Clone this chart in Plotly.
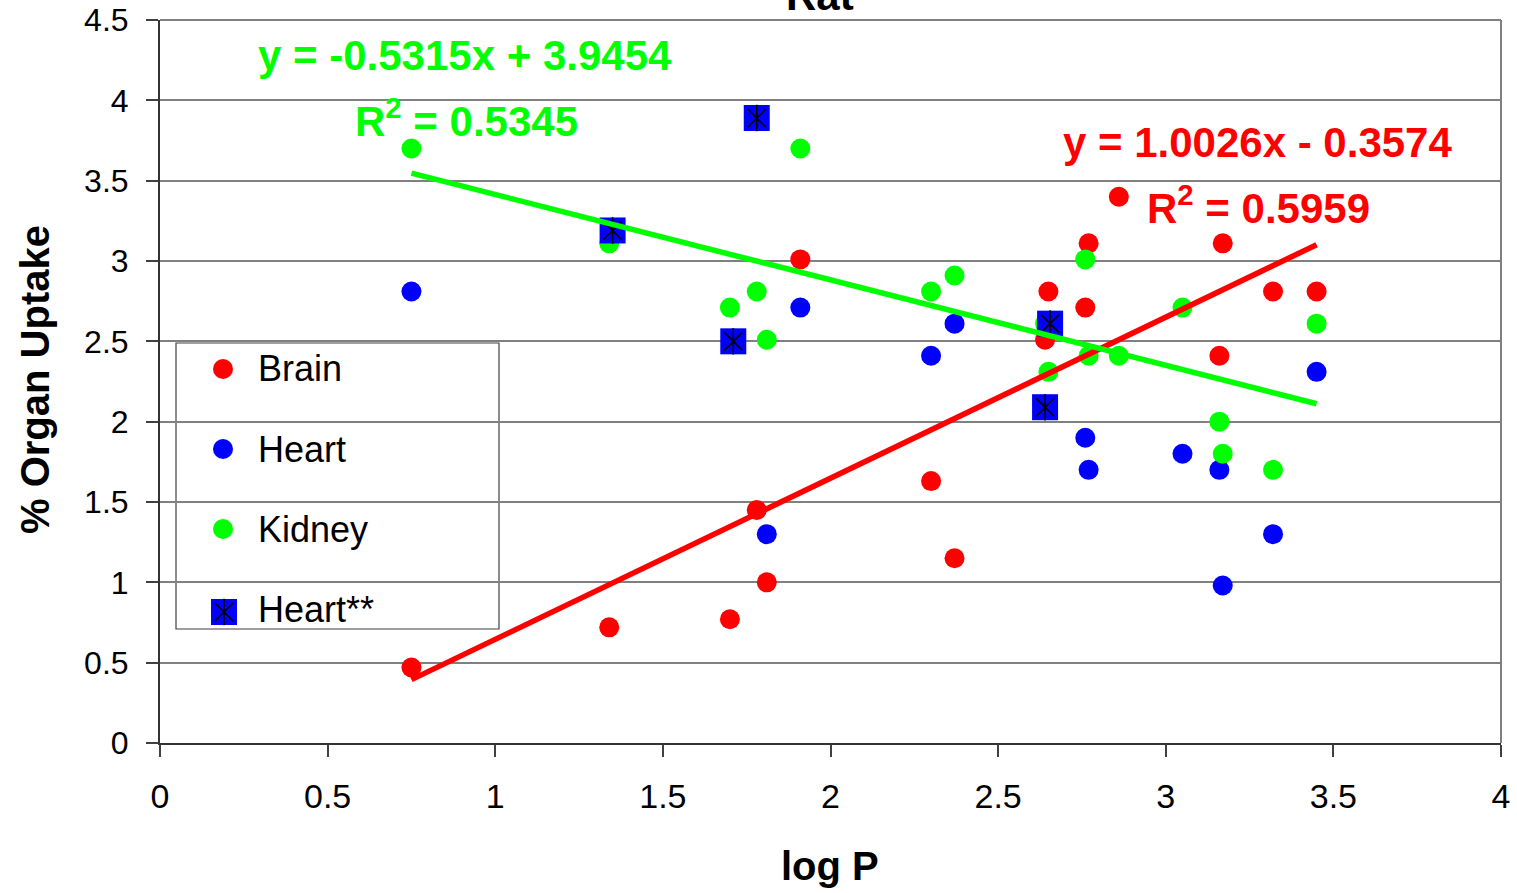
import plotly.graph_objects as go

# ---------------- data ----------------
brain_x = [0.75, 1.34, 1.70, 1.78, 1.81, 1.91, 2.30, 2.37, 2.64, 2.65, 2.76, 2.77, 2.86, 3.16, 3.17, 3.32, 3.45]
brain_y = [0.47, 0.72, 0.77, 1.45, 1.00, 3.01, 1.63, 1.15, 2.51, 2.81, 2.71, 3.11, 3.40, 2.41, 3.11, 2.81, 2.81]

heart_x = [0.75, 1.81, 1.91, 2.30, 2.37, 2.76, 2.77, 3.05, 3.16, 3.17, 3.32, 3.45]
heart_y = [2.81, 1.30, 2.71, 2.41, 2.61, 1.90, 1.70, 1.80, 1.70, 0.98, 1.30, 2.31]

kidney_x = [0.75, 1.34, 1.70, 1.78, 1.81, 1.91, 2.30, 2.37, 2.64, 2.65, 2.76, 2.77, 2.86, 3.05, 3.16, 3.17, 3.32, 3.45]
kidney_y = [3.70, 3.11, 2.71, 2.81, 2.51, 3.70, 2.81, 2.91, 2.61, 2.31, 3.01, 2.41, 2.41, 2.71, 2.00, 1.80, 1.70, 2.61]

heart2_x = [1.35, 1.71, 1.78, 2.655, 2.64]
heart2_y = [3.19, 2.50, 3.89, 2.61, 2.09]

legend_labels = ["Brain", "Heart", "Kidney", "Heart**"]

brain_fit = (1.0026, -0.3574, 0.5959)
kidney_fit = (-0.5315, 3.9454, 0.5345)

x_ticks = [0, 0.5, 1, 1.5, 2, 2.5, 3, 3.5, 4]
y_ticks = [0, 0.5, 1, 1.5, 2, 2.5, 3, 3.5, 4, 4.5]

# ---------------- styling ----------------
RED, BLUE, GREEN = "#FF0000", "#0000FF", "#00FF00"
FONT = "Liberation Sans, Arial, sans-serif"
W, H = 1517, 893
L, R, T, B = 160, 16, 20, 150
PW, PH = W - L - R, H - T - B


def pxx(px):
    return (px - L) / PW


def pxy(py):
    return (H - B - py) / PH


fig = go.Figure()


def circles(x, y, color, xa="x", ya="y"):
    fig.add_trace(go.Scatter(x=x, y=y, xaxis=xa, yaxis=ya, mode="markers", showlegend=False,
                             marker=dict(symbol="circle", size=20, color=color, line=dict(width=0))))


def starsquares(x, y, xa="x", ya="y"):
    fig.add_trace(go.Scatter(x=x, y=y, xaxis=xa, yaxis=ya, mode="markers", showlegend=False,
                             marker=dict(symbol="square", size=26, color=BLUE, line=dict(width=0))))
    fig.add_trace(go.Scatter(x=x, y=y, xaxis=xa, yaxis=ya, mode="markers", showlegend=False,
                             marker=dict(symbol="x-thin-open", size=18, color="black",
                                         line=dict(width=1.6, color="black"))))
    fig.add_trace(go.Scatter(x=x, y=y, xaxis=xa, yaxis=ya, mode="markers", showlegend=False,
                             marker=dict(symbol="line-ns-open", size=19, color="black",
                                         line=dict(width=1.6, color="black"))))


circles(brain_x, brain_y, RED)
circles(heart_x, heart_y, BLUE)
circles(kidney_x, kidney_y, GREEN)
starsquares(heart2_x, heart2_y)

# trend lines
for xs, fit, color in [(brain_x, brain_fit, RED), (kidney_x, kidney_fit, GREEN)]:
    x0, x1 = min(xs), max(xs)
    fig.add_trace(go.Scatter(x=[x0, x1], y=[fit[0] * x0 + fit[1], fit[0] * x1 + fit[1]],
                             mode="lines", showlegend=False, line=dict(color=color, width=5.5)))

# ---------------- manual legend (pixel overlay axes) ----------------
leg_rows = [369, 449, 529, 609]
for yy, c in zip(leg_rows[:3], [RED, BLUE, GREEN]):
    circles([223], [yy], c, "x2", "y2")
starsquares([224], [612], "x2", "y2")

annotations = []
for yy, lab in zip(leg_rows, legend_labels):
    annotations.append(dict(x=pxx(256), y=pxy(yy), xref="paper", yref="paper", xanchor="left",
                            yanchor="middle", text=lab, showarrow=False,
                            font=dict(family=FONT, size=36, color="black")))

# equations
eq_font = dict(family=FONT, size=42)
annotations += [
    dict(x=pxx(465), y=pxy(55), text="<b>y = -0.5315x + 3.9454</b>", font=dict(eq_font, color=GREEN)),
    dict(x=pxx(466), y=pxy(118), text="<b>R<sup>2</sup> = %.4f</b>" % kidney_fit[2], font=dict(eq_font, color=GREEN)),
    dict(x=pxx(1257), y=pxy(143), text="<b>y = 1.0026x - 0.3574</b>", font=dict(eq_font, color=RED)),
    dict(x=pxx(1258), y=pxy(205), text="<b>R<sup>2</sup> = %.4f</b>" % brain_fit[2], font=dict(eq_font, color=RED)),
    # titles
    dict(x=pxx(820), y=pxy(-4), text="<b>Rat</b>", font=dict(family=FONT, size=42, color="black")),
    dict(x=pxx(830), y=pxy(866), text="<b>log P</b>", font=dict(family=FONT, size=40, color="black")),
    dict(x=pxx(35), y=pxy(380), text="<b>% Organ Uptake</b>", textangle=-90,
         font=dict(family=FONT, size=40, color="black")),
]
for a in annotations[4:]:
    a.setdefault("xref", "paper")
    a.setdefault("yref", "paper")
    a.setdefault("xanchor", "center")
    a.setdefault("yanchor", "middle")
    a.setdefault("showarrow", False)

shapes = [
    # legend box (covers gridlines, below traces)
    dict(type="rect", xref="paper", yref="paper", x0=pxx(176), x1=pxx(499), y0=pxy(629), y1=pxy(343),
         fillcolor="white", line=dict(color="#404040", width=1.2), layer="between"),
    # top / right border
    dict(type="line", xref="paper", yref="paper", x0=0, x1=1, y0=1, y1=1,
         line=dict(color="#808080", width=2), layer="below"),
    dict(type="line", xref="paper", yref="paper", x0=1, x1=1, y0=0, y1=1,
         line=dict(color="#808080", width=2), layer="below"),
]

fig.update_layout(
    width=W, height=H,
    margin=dict(l=L, r=R, t=T, b=B, pad=0),
    paper_bgcolor="white", plot_bgcolor="white",
    showlegend=False,
    font=dict(family=FONT, color="black"),
    annotations=annotations,
    shapes=shapes,
    xaxis=dict(range=[0, 4], tickvals=x_ticks, showgrid=False, zeroline=False, automargin=False,
               showline=True, linecolor="#333333", linewidth=2,
               ticks="outside", ticklen=12, tickcolor="#404040", tickwidth=1.5,
               tickfont=dict(family=FONT, size=34, color="black"), ticklabelstandoff=10),
    yaxis=dict(range=[0, 4.5], tickvals=y_ticks, showgrid=True, gridcolor="#808080", gridwidth=1.5,
               zeroline=False, showline=True, linecolor="#333333", linewidth=2, automargin=False,
               ticks="outside", ticklen=12, tickcolor="#404040", tickwidth=1.5,
               tickfont=dict(family=FONT, size=32, color="black"), ticklabelstandoff=11),
    xaxis2=dict(range=[L, L + PW], overlaying="x", visible=False, automargin=False),
    yaxis2=dict(range=[H - B, T], overlaying="y", visible=False, automargin=False),
)

fig.write_html("out.html", config={"displayModeBar": False},
               post_script="document.body.style.margin='0';")
